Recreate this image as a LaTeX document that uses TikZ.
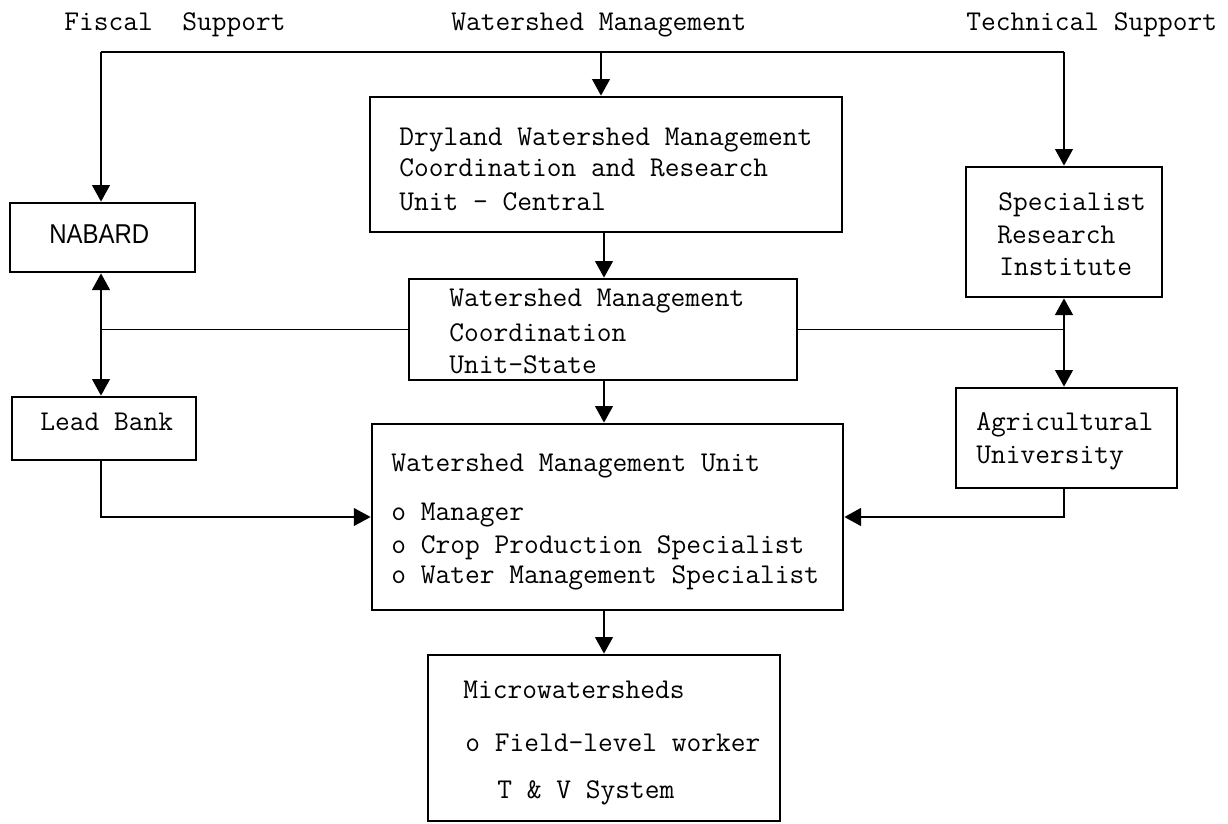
\documentclass[tikz,border=0pt]{standalone}
\usepackage{fontspec}
\newfontfamily\nabfont[FakeStretch=0.88]{Liberation Sans}
\usetikzlibrary{arrows.meta,fit}

\begin{document}
\begin{tikzpicture}[x=0.02cm,y=-0.02cm,
    >={Triangle[width=10pt,length=9.5pt]},
    box/.style={draw,line width=1.5pt,inner sep=0pt},
    lbl/.style={anchor=base west,inner sep=0pt,font=\ttfamily\fontsize{16.3}{18}\selectfont},
    link/.style={line width=1.5pt},
    thinlink/.style={line width=1pt}]
    \useasboundingbox (0,0) rectangle (1228,823);

    % boxes
    \node[box,fit={(10,203) (195,272)}] (nab) {};
    \node[box,fit={(370,97) (842,232)}] (dry) {};
    \node[box,fit={(966,167) (1162,297)}] (spec) {};
    \node[box,fit={(409,279) (797,380)}] (wmcu) {};
    \node[box,fit={(12,397) (196,460)}] (lead) {};
    \node[box,fit={(956,388) (1177,488)}] (agri) {};
    \node[box,fit={(372,424) (843,610)}] (wmu) {};
    \node[box,fit={(428,655) (780,821)}] (micro) {};

    % headings
    \node[lbl] (fiscal) at (64,30) {Fiscal~~Support};
    \node[lbl] (wsm) at (451,30) {Watershed Management};
    \node[lbl] (tech) at (966,30) {Technical Support};

    % box texts
    \node[anchor=base west,inner sep=0pt,font=\nabfont\fontsize{15.5}{17}\selectfont] (nabt) at (49,243) {NABARD};
    \node[lbl] (dry1) at (399,145) {Dryland Watershed Management};
    \node[lbl] (dry2) at (399,176) {Coordination and Research};
    \node[lbl] (dry3) at (399,210) {Unit – Central};
    \node[lbl] (spec1) at (998,210) {Specialist};
    \node[lbl] (spec2) at (997,243) {Research};
    \node[lbl] (spec3) at (999,275) {Institute};
    \node[lbl] (wmcu1) at (449,306) {Watershed Management};
    \node[lbl] (wmcu2) at (449,341) {Coordination};
    \node[lbl] (wmcu3) at (449,373) {Unit-State};
    \node[lbl] (leadt) at (40,430) {Lead Bank};
    \node[lbl] (agri1) at (976,430) {Agricultural};
    \node[lbl] (agri2) at (976,463) {University};
    \node[lbl] (wmu1) at (391,471) {Watershed Management Unit};
    \node[lbl] (wmu2) at (391,520) {o Manager};
    \node[lbl] (wmu3) at (391,553) {o Crop Production Specialist};
    \node[lbl] (wmu4) at (391,583) {o Water Management Specialist};
    \node[lbl] (mic1) at (463,698) {Microwatersheds};
    \node[lbl] (mic2) at (465,751) {o Field-level worker};
    \node[lbl] (mic3) at (497,798) {T \& V System};

    % top bus
    \coordinate (busL) at (101,52);
    \coordinate (busM) at (601,52);
    \coordinate (busR) at (1064,52);
    \coordinate (mid) at (604,0);
    \draw[link] (busL) -- (busR);
    \draw[link,->] (busL) -- (busL |- nab.north);
    \draw[link,->] (busM) -- (busM |- dry.north);
    \draw[link,->] (busR) -- (spec.north);

    % down the middle
    \draw[link,->] (mid |- dry.south) -- (mid |- wmcu.north);
    \draw[link,->] (mid |- wmcu.south) -- (mid |- wmu.north);
    \draw[link,->] (mid |- wmu.south) -- (mid |- micro.north);

    % fiscal side
    \draw[link,<->] (busL |- nab.south) -- (busL |- lead.north);
    \draw[thinlink] (wmcu.west) -- (wmcu.west -| busL);
    \draw[thinlink,->] (busL |- lead.south) |- (wmu.west);

    % technical side
    \draw[link,<->] (busR |- spec.south) -- (busR |- agri.north);
    \draw[thinlink] (wmcu.east) -- (wmcu.east -| busR);
    \draw[link,->] (busR |- agri.south) |- (wmu.east);
\end{tikzpicture}
\end{document}
